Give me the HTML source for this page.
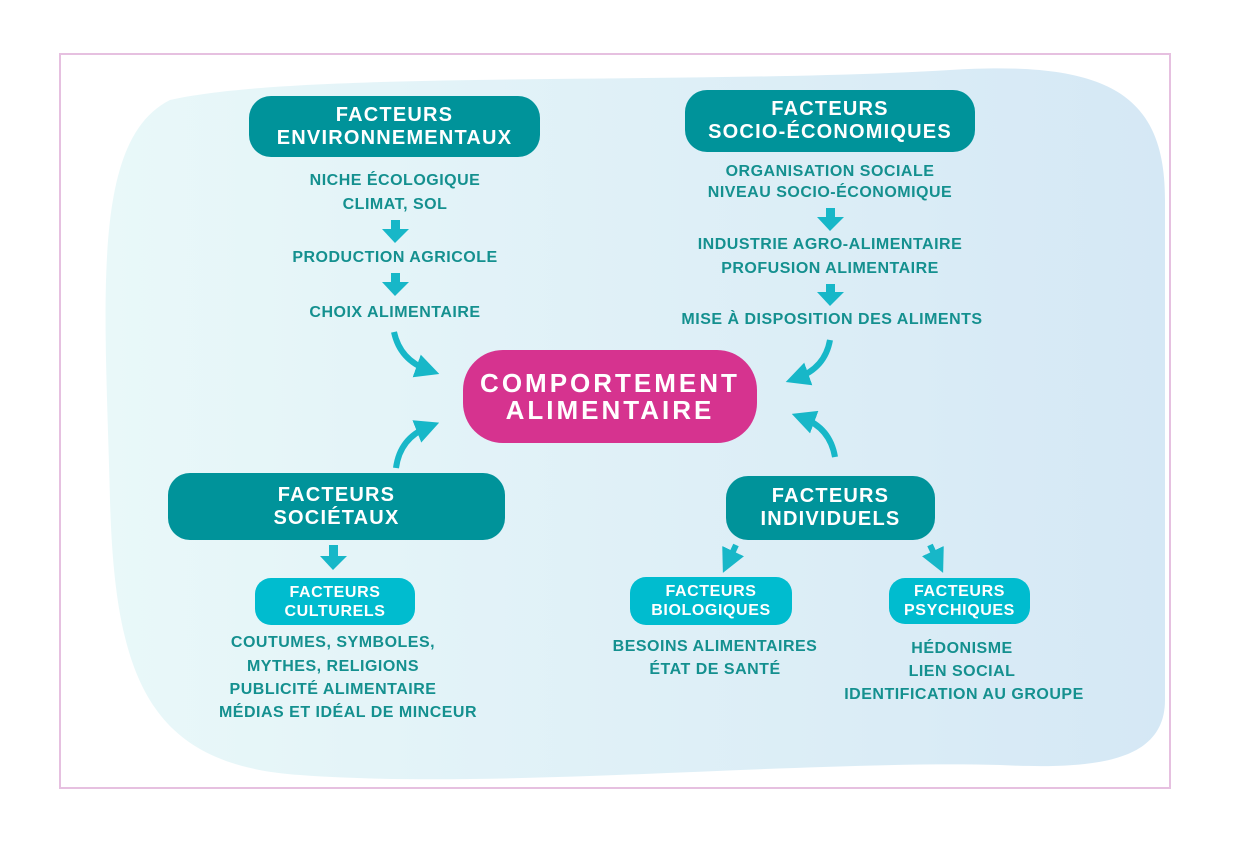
<!DOCTYPE html>
<html><head><meta charset="utf-8"><style>
body{margin:0;width:1233px;height:846px;background:#fff;position:relative;overflow:hidden;font-family:"Liberation Sans",sans-serif;font-weight:bold}
.box{position:absolute;display:flex;align-items:center;justify-content:center;text-align:center;color:#fff;line-height:23px;font-size:20px;letter-spacing:1.2px;background:#00939a;border-radius:22px}
.lb{background:#00bccf;font-size:16px;letter-spacing:0.6px;line-height:19px;border-radius:16px}
.t{position:absolute;color:#14908f;font-size:16px;letter-spacing:0.5px;transform:translateX(-50%);white-space:nowrap;line-height:20px}
</style></head><body>
<svg width="1233" height="846" style="position:absolute;left:0;top:0">
<defs><linearGradient id="g" x1="0" x2="1"><stop offset="0" stop-color="#e9f8f9"/><stop offset="1" stop-color="#d5e8f5"/></linearGradient>
<marker id="m" markerWidth="4" markerHeight="4" refX="2" refY="2" orient="auto" markerUnits="strokeWidth"><path d="M0,0 L4,2 L0,4 z" fill="#17b7c8"/></marker></defs>
<rect x="60" y="54" width="1110" height="734" fill="none" stroke="#e6c0e0" stroke-width="2"/>
<path d="M170 100 C300 70,700 85,950 70 C1110 60,1165 95,1165 200 L1165 700 C1165 760,1100 770,1000 765 C800 760,500 790,300 775 C150 765,115 680,110 500 C105 300,90 140,170 100 Z" fill="url(#g)"/>
<g stroke="#17b7c8" stroke-width="6" fill="none" marker-end="url(#m)">
<path d="M394 332 Q400 360 428 370"/>
<path d="M830 340 Q825 368 797 378"/>
<path d="M396 468 Q400 438 428 427"/>
<path d="M835 457 Q830 428 803 418"/>
<path d="M736 545 L728 562"/>
<path d="M930 545 L938 562"/>
</g>
<g fill="#17b7c8">
<rect x="391" y="220" width="9" height="10"/><path d="M382 229 L409 229 L395 243 z"/>
<rect x="391" y="273" width="9" height="10"/><path d="M382 282 L409 282 L395 296 z"/>
<rect x="826" y="208" width="9" height="10"/><path d="M817 217 L844 217 L830 231 z"/>
<rect x="826" y="284" width="9" height="10"/><path d="M817 292 L844 292 L830 306 z"/>
<rect x="329" y="545" width="9" height="12"/><path d="M320 556 L347 556 L333 570 z"/>
</g>
</svg>
<div class="box" style="left:249px;top:96px;width:291px;height:61px">FACTEURS<br>ENVIRONNEMENTAUX</div>
<div class="box" style="left:685px;top:90px;width:290px;height:62px">FACTEURS<br>SOCIO-ÉCONOMIQUES</div>
<div class="box" style="left:463px;top:350px;width:294px;height:93px;background:#d6338f;border-radius:40px;font-size:26px;line-height:27px;letter-spacing:3px">COMPORTEMENT<br>ALIMENTAIRE</div>
<div class="box" style="left:168px;top:473px;width:337px;height:67px">FACTEURS<br>SOCIÉTAUX</div>
<div class="box" style="left:726px;top:476px;width:209px;height:64px">FACTEURS<br>INDIVIDUELS</div>
<div class="box lb" style="left:255px;top:578px;width:160px;height:47px">FACTEURS<br>CULTURELS</div>
<div class="box lb" style="left:630px;top:577px;width:162px;height:48px">FACTEURS<br>BIOLOGIQUES</div>
<div class="box lb" style="left:889px;top:578px;width:141px;height:46px">FACTEURS<br>PSYCHIQUES</div>
<div class="t" style="left:395px;top:171px">NICHE ÉCOLOGIQUE</div>
<div class="t" style="left:395px;top:195px">CLIMAT, SOL</div>
<div class="t" style="left:395px;top:248px">PRODUCTION AGRICOLE</div>
<div class="t" style="left:395px;top:303px">CHOIX ALIMENTAIRE</div>
<div class="t" style="left:830px;top:162px">ORGANISATION SOCIALE</div>
<div class="t" style="left:830px;top:183px">NIVEAU SOCIO-ÉCONOMIQUE</div>
<div class="t" style="left:830px;top:235px">INDUSTRIE AGRO-ALIMENTAIRE</div>
<div class="t" style="left:830px;top:259px">PROFUSION ALIMENTAIRE</div>
<div class="t" style="left:832px;top:310px">MISE À DISPOSITION DES ALIMENTS</div>
<div class="t" style="left:333px;top:633px">COUTUMES, SYMBOLES,</div>
<div class="t" style="left:333px;top:657px">MYTHES, RELIGIONS</div>
<div class="t" style="left:333px;top:680px">PUBLICITÉ ALIMENTAIRE</div>
<div class="t" style="left:348px;top:703px">MÉDIAS ET IDÉAL DE MINCEUR</div>
<div class="t" style="left:715px;top:637px">BESOINS ALIMENTAIRES</div>
<div class="t" style="left:715px;top:660px">ÉTAT DE SANTÉ</div>
<div class="t" style="left:962px;top:639px">HÉDONISME</div>
<div class="t" style="left:962px;top:662px">LIEN SOCIAL</div>
<div class="t" style="left:964px;top:685px">IDENTIFICATION AU GROUPE</div>
</body></html>
